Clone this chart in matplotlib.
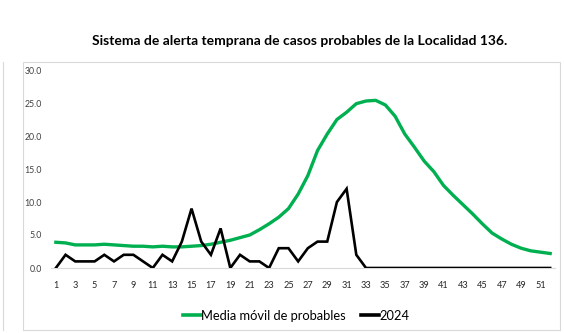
import matplotlib
matplotlib.use("Agg")
import matplotlib.pyplot as plt
from matplotlib.lines import Line2D
from matplotlib.patches import Rectangle

weeks = list(range(1, 53))
media_movil = [3.9, 3.8, 3.5, 3.5, 3.5, 3.6, 3.5, 3.4, 3.3, 3.3,
               3.2, 3.3, 3.2, 3.2, 3.3, 3.4, 3.6, 3.9, 4.2, 4.6,
               5.0, 5.8, 6.7, 7.7, 9.0, 11.2, 14.0, 17.8, 20.3, 22.5,
               23.6, 24.9, 25.3, 25.4, 24.7, 23.0, 20.3, 18.3, 16.2, 14.6,
               12.5, 11.0, 9.6, 8.2, 6.7, 5.3, 4.4, 3.6, 3.0, 2.6,
               2.4, 2.2]
casos_2024 = [0, 2, 1, 1, 1, 2, 1, 2, 2, 1,
              0, 2, 1, 4, 9, 4, 2, 6, 0, 2,
              1, 1, 0, 3, 3, 1, 3, 4, 4, 10,
              12, 2, 0, 0, 0, 0, 0, 0, 0, 0,
              0, 0, 0, 0, 0, 0, 0, 0, 0, 0,
              0, 0]
y_ticks = [0, 5, 10, 15, 20, 25, 30]
title = "Sistema de alerta temprana de casos probables de la Localidad 136."

plt.rcParams['font.family'] = ['Lato', 'DejaVu Sans']

W, H = 564, 333
fig = plt.figure(figsize=(W / 100, H / 100), dpi=100)
fig.patch.set_facecolor("white")

# outer frames
fig.add_artist(Rectangle((23 / W, 3 / H), (560 - 23) / W, (330 - 62) / H,
                         transform=fig.transFigure, fill=False,
                         edgecolor="#d9d9d9", linewidth=0.8))
fig.add_artist(Line2D([3 / W, 3 / W], [3 / H, (333 - 62) / H],
                      transform=fig.transFigure, color="#d9d9d9", linewidth=0.8))

left, right = 51 / W, 555 / W
bottom, top = (333 - 268) / H, (333 - 70) / H
ax = fig.add_axes([left, bottom, right - left, top - bottom])

green = "#00B050"
ax.plot(weeks, media_movil, color=green, linewidth=2.4, solid_joinstyle="round",
        label="Media móvil de probables", zorder=2)
ax.plot(weeks, casos_2024, color="black", linewidth=1.9, solid_joinstyle="miter",
        label="2024", zorder=3)

ax.set_xlim(0.5, 52.5)
ax.set_ylim(0, 30)
ax.set_yticks(y_ticks)
ax.set_yticklabels([f"{v:.1f}" for v in y_ticks], fontsize=6.3, color="#404040")
ax.set_xticks(weeks[::2])
ax.set_xticklabels([str(w) for w in weeks[::2]], fontsize=6.6, color="#262626")
ax.tick_params(axis="both", length=0)
ax.tick_params(axis="x", pad=9)
ax.tick_params(axis="y", pad=6.5)
for s in ["top", "right", "left"]:
    ax.spines[s].set_visible(False)
ax.spines["bottom"].set_color("#d9d9d9")
ax.spines["bottom"].set_linewidth(0.8)

fig.text(300 / W, (333 - 41) / H, title, ha="center", va="center",
         fontsize=10, fontweight="bold", color="black")

handles = [Line2D([], [], color=green, linewidth=2.6),
           Line2D([], [], color="black", linewidth=2.6)]
fig.legend(handles, ["Media móvil de probables", "2024"],
           loc="center", bbox_to_anchor=(296 / W, (333 - 316) / H),
           ncol=2, frameon=False, fontsize=9.3, handlelength=1.4,
           handletextpad=0.0, columnspacing=1.2)

fig.savefig("out.png", dpi=100, facecolor="white")
